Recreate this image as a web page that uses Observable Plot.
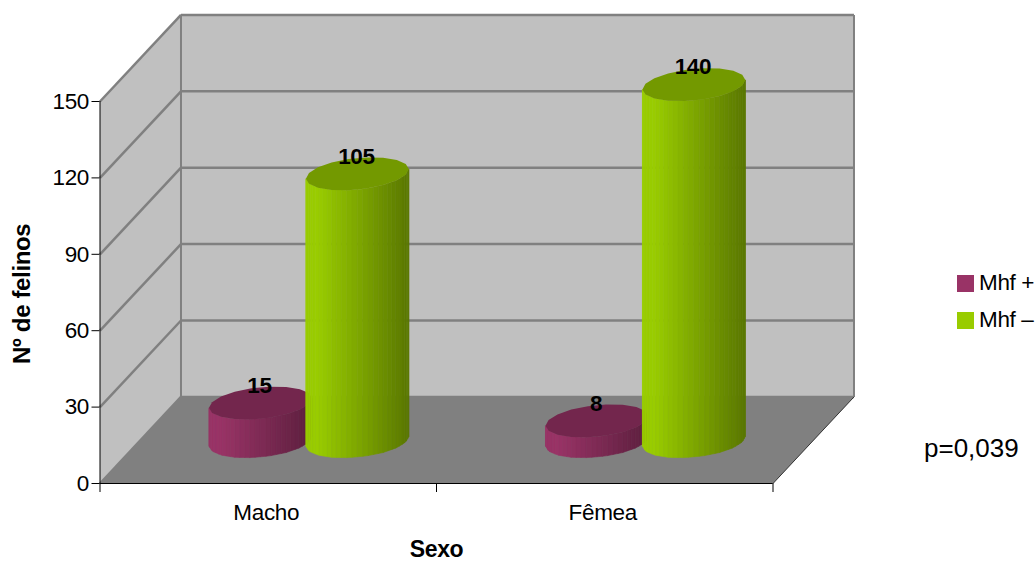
<!DOCTYPE html>
<html lang="pt">
<head>
<meta charset="utf-8">
<title>Nº de felinos por sexo</title>
<script src="https://cdn.jsdelivr.net/npm/d3@7"></script>
<script src="https://cdn.jsdelivr.net/npm/@observablehq/plot@0.6"></script>
<style>
  html, body { margin: 0; padding: 0; background: #fff; }
  body { position: relative; width: 1036px; height: 561px; overflow: hidden; font-family: "Liberation Sans", Arial, sans-serif; color: #000; }
  #chart svg { display: block; }
  #chart svg text { letter-spacing: -0.35px; }
  .swatch { position: absolute; left: 957px; width: 17px; height: 17px; }
  .entry { position: absolute; left: 979px; font-size: 22.5px; letter-spacing: -0.35px; line-height: 24px; white-space: nowrap; }
  #pvalue { position: absolute; left: 924px; top: 433px; font-size: 26px; line-height: 30px; white-space: nowrap; }
</style>
</head>
<body>
<div id="chart"></div>
<div class="swatch" style="top:275px;background:#993366"></div>
<div class="entry" style="top:271px">Mhf +</div>
<div class="swatch" style="top:312px;background:#99cc00"></div>
<div class="entry" style="top:308px">Mhf –</div>
<div id="pvalue">p=0,039</div>
<script>
const categories = ["Macho", "Fêmea"];
const mhfPositive = [15, 8];
const mhfNegative = [105, 140];
const yTicks = [0, 30, 60, 90, 120, 150];

// Oblique projection of the box, expressed in data units of each axis.
const depthX = 0.2407;
const depthY = 34;
const barDepthX = depthX / 2 + 0.002;
const barDepthY = depthY / 2 - 0.6;
const barOffset = 0.144;
const barRadius = 0.153;

const wallFill = "#c0c0c0";
const floorFill = "#808080";
const gridStroke = "#808080";

const rows = (values, sign, series) => values.map((value, i) => ({
  category: categories[i],
  value,
  series,
  cx: i + 0.5 + barDepthX + sign * barOffset
}));
const positiveRows = rows(mhfPositive, -1, "Mhf +");
const negativeRows = rows(mhfNegative, 1, "Mhf –");

// Draws each datum as a faceted cylinder standing on the middle of the floor:
// a coarse polygon gives the rim, finer vertical strips give the shading.
function cylinder(light, dark, cap) {
  return (index, scales, values) => {
    const g = d3.create("svg:g");
    const a = scales.x(barRadius) - scales.x(0);
    const baseY = scales.y(barDepthY);
    const b = 15.8, k = 4.8, rimSteps = 9, strips = 30;
    const shade = d3.interpolateRgb(light, dark);
    const rimY = (t) => -k * Math.cos(t) + b * Math.sin(t);
    // Height of the lower rim at parameter t, along the coarse polygon.
    const lowerRim = (t) => {
      const step = Math.PI / rimSteps;
      const j = Math.min(rimSteps - 1, Math.floor(t / step));
      const t0 = j * step, t1 = t0 + step;
      const f = (Math.cos(t0) - Math.cos(t)) / (Math.cos(t0) - Math.cos(t1));
      return rimY(t0) + f * (rimY(t1) - rimY(t0));
    };
    for (const i of index) {
      const cx = values.x[i], topY = values.y[i];
      const px = (t) => cx + a * Math.cos(t);
      for (let s = 0; s < strips; s++) {
        const t0 = Math.PI * (1 - s / strips);
        const t1 = Math.PI * (1 - (s + 1) / strips);
        const u = (px((t0 + t1) / 2) - (cx - a)) / (2 * a);
        const fill = shade(Math.max(0, u - 0.12) / 0.88);
        g.append("path")
          .attr("d", `M${px(t0)},${topY + lowerRim(t0)}L${px(t1)},${topY + lowerRim(t1)}L${px(t1)},${baseY + lowerRim(t1)}L${px(t0)},${baseY + lowerRim(t0)}Z`)
          .attr("fill", fill)
          .attr("stroke", fill)
          .attr("stroke-width", 0.6);
      }
      const ring = d3.range(rimSteps * 2).map((s) => {
        const t = (Math.PI * s) / rimSteps;
        return `${px(t)},${topY + rimY(t)}`;
      });
      g.append("path").attr("d", `M${ring.join("L")}Z`).attr("fill", cap);
    }
    return g.node();
  };
}

const cylinderMark = (data, light, dark, cap) =>
  Plot.dot(data, {
    x: "cx",
    y: (d) => d.value + barDepthY,
    render: cylinder(light, dark, cap)
  });

const valueLabels = (data) =>
  Plot.text(data, {
    x: "cx",
    y: (d) => d.value + barDepthY,
    text: (d) => String(d.value),
    dx: -1.5,
    dy: -18,
    fontWeight: "bold",
    fontSize: 22.5,
    fill: "#000"
  });

const plot = Plot.plot({
  width: 1036,
  height: 561,
  marginLeft: 99.5,
  marginRight: 263.5,
  marginTop: 101,
  marginBottom: 78,
  style: { fontFamily: "'Liberation Sans', Arial, sans-serif", fontSize: "22.5px", background: "#fff", overflow: "visible" },
  x: { type: "linear", domain: [0, categories.length] },
  y: { type: "linear", domain: [0, 150] },
  marks: [
    // Back wall, side wall and floor of the box.
    Plot.rect([0], { x1: depthX, x2: 2 + depthX, y1: depthY, y2: 150 + depthY, fill: wallFill }),
    Plot.line([[0, 0], [depthX, depthY], [depthX, 150 + depthY], [0, 150]], { x: "0", y: "1", fill: wallFill, stroke: null }),
    Plot.line([[0, 0], [2, 0], [2 + depthX, depthY], [depthX, depthY]], { x: "0", y: "1", fill: floorFill, stroke: null }),

    // Gridlines wrapping round the side wall and the back wall.
    Plot.link(yTicks, { x1: depthX, x2: 2 + depthX, y1: (v) => v + depthY, y2: (v) => v + depthY, stroke: gridStroke, strokeWidth: 2.5 }),
    Plot.link(yTicks, { x1: 0, x2: depthX, y1: (v) => v, y2: (v) => v + depthY, stroke: gridStroke, strokeWidth: 2.5 }),
    Plot.link([depthX, 2 + depthX], { x1: (x) => x, x2: (x) => x, y1: depthY, y2: 150 + depthY, stroke: gridStroke, strokeWidth: 2 }),
    Plot.link([0], { x1: 2, x2: 2 + depthX, y1: 0, y2: depthY, stroke: "#333", strokeWidth: 1 }),

    // Cylinders, short series first so the taller one sits in front of it.
    cylinderMark(positiveRows, "#993366", "#5c1f3e", "#73264d"),
    cylinderMark(negativeRows, "#99cc00", "#5a7700", "#739900"),
    valueLabels(positiveRows),
    valueLabels(negativeRows),

    // Axes.
    Plot.ruleX([0], { y1: 0, y2: 150, stroke: "#000" }),
    Plot.ruleY([0], { x1: 0, x2: 2, stroke: "#000" }),
    Plot.axisY({ ticks: yTicks, tickSize: 8, tickPadding: 3, label: null, fontSize: 22.5, stroke: "#000" }),
    Plot.axisX({ ticks: d3.range(categories.length + 1), tickSize: 9, tickFormat: () => "", label: null, stroke: "#000" }),
    Plot.axisX({ ticks: categories.map((_, i) => i + 0.5), tickSize: 0, tickPadding: 21, dx: -2, tickFormat: (x) => categories[Math.floor(x)], label: null, fontSize: 22.5 }),

    // Axis titles.
    Plot.text(["Sexo"], { x: () => 1, y: () => 0, dy: 66, fontWeight: "bold", fontSize: 23, fill: "#000" }),
    Plot.text(["Nº de felinos"], { x: () => 0, y: () => 74.5, dx: -78, rotate: -90, fontWeight: "bold", fontSize: 24, fill: "#000" })
  ]
});
document.getElementById("chart").append(plot);
</script>
</body>
</html>
